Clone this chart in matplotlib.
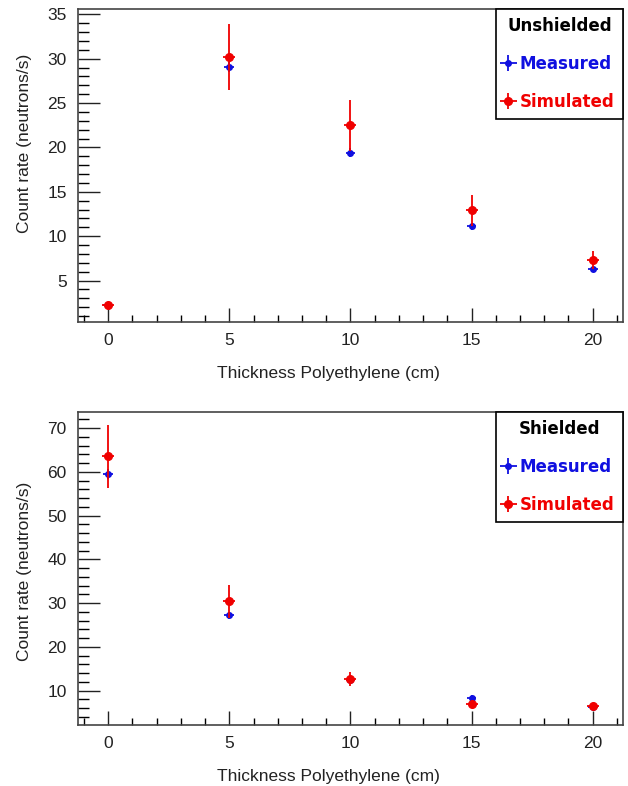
import numpy as np
import matplotlib
matplotlib.use('Agg')
import matplotlib.pyplot as plt
from matplotlib.ticker import MultipleLocator

# Data
thickness = [0, 5, 10, 15, 20]

unsh_meas = [2.3, 29.1, 19.4, 11.1, 6.3]
unsh_meas_err = [0.3, 0.6, 0.5, 0.4, 0.3]
unsh_sim = [2.3, 30.2, 22.5, 12.9, 7.3]
unsh_sim_err = [0.2, 3.7, 2.9, 1.7, 1.05]

sh_meas = [59.5, 27.2, 12.5, 8.3, 6.2]
sh_meas_err = [1.2, 0.8, 0.6, 0.6, 0.5]
sh_sim = [63.6, 30.4, 12.7, 6.9, 6.4]
sh_sim_err = [7.2, 3.7, 1.6, 0.8, 0.8]

panels = [
    ("Unshielded", unsh_meas, unsh_meas_err, unsh_sim, unsh_sim_err),
    ("Shielded", sh_meas, sh_meas_err, sh_sim, sh_sim_err),
]

fig = plt.figure(figsize=(6.28, 7.86), dpi=100)
ax_top = fig.add_axes([0.124, 0.590, 0.868, 0.3985])
ax_bot = fig.add_axes([0.124, 0.0776, 0.868, 0.3982])

label_font = 'Liberation Sans'

for ax, (title, meas, meas_err, sim, sim_err) in zip([ax_top, ax_bot], panels):
    ax.errorbar(thickness, meas, yerr=meas_err, xerr=0.2, fmt='o', color='#1010e0',
                ms=4, lw=1.3, capsize=0, label='Measured', zorder=3)
    ax.errorbar(thickness, sim, yerr=sim_err, xerr=0.25, fmt='o', color='#f00000',
                ms=5.5, lw=1.3, capsize=0, label='Simulated', zorder=4)

    ax.set_xlim(-1.25, 21.25)
    ax.xaxis.set_major_locator(MultipleLocator(5))
    ax.xaxis.set_minor_locator(MultipleLocator(1))
    ax.tick_params(axis='x', which='major', direction='in', length=10, width=1, pad=8)
    ax.tick_params(axis='x', which='minor', direction='in', length=5, width=1)
    ax.tick_params(axis='y', which='major', direction='in', length=16, width=1, pad=8)
    ax.tick_params(axis='y', which='minor', direction='in', length=8, width=1)
    ax.tick_params(labelsize=12.5, colors='#222222')
    for sp in ax.spines.values():
        sp.set_color('#444444')
        sp.set_linewidth(1.2)

    ax.set_xlabel('Thickness Polyethylene (cm)', fontsize=12.5, family=label_font, color='#222222')
    ax.set_ylabel('Count rate (neutrons/s)', fontsize=12.5, family=label_font, color='#222222')

    leg = ax.legend(loc='upper right', borderaxespad=0, fancybox=False, framealpha=1,
                    edgecolor='black', title=title, handlelength=0.5, handletextpad=0.45,
                    labelspacing=1.2, borderpad=0.5,
                    prop={'family': 'DejaVu Sans', 'weight': 'bold', 'size': 12},
                    title_fontproperties={'family': 'DejaVu Sans', 'weight': 'bold', 'size': 12})
    leg.get_frame().set_linewidth(1.2)
    leg.get_title().set_color('black')
    leg._legend_box.sep = 14
    for txt, col in zip(leg.get_texts(), ['#1010e0', '#f00000']):
        txt.set_color(col)

ax_top.set_ylim(0.3, 35.6)
ax_top.yaxis.set_minor_locator(MultipleLocator(1))
ax_top.set_yticks([5, 10, 15, 20, 25, 30, 35])
ax_top.yaxis.set_label_coords(-0.085, 0.57)
ax_top.xaxis.set_label_coords(0.46, -0.14)

ax_bot.set_ylim(2.15, 73.7)
ax_bot.yaxis.set_minor_locator(MultipleLocator(2))
ax_bot.set_yticks([10, 20, 30, 40, 50, 60, 70])
ax_bot.yaxis.set_label_coords(-0.085, 0.49)
ax_bot.xaxis.set_label_coords(0.46, -0.14)

for ax in [ax_top, ax_bot]:
    for lab in ax.get_xticklabels() + ax.get_yticklabels():
        lab.set_fontfamily(label_font)

fig.savefig('out.png', dpi=100)
